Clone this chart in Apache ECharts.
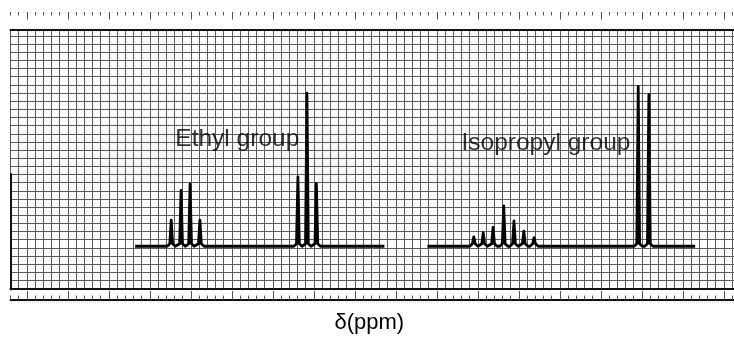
<!DOCTYPE html>
<html>
<head>
<meta charset="utf-8">
<script src="https://cdn.jsdelivr.net/npm/echarts@6/dist/echarts.min.js"></script>
<style>
  html, body { margin: 0; padding: 0; background: #fff; }
  #chart { width: 734px; height: 339px; }
</style>
</head>
<body>
<div id="chart"></div>
<script>
// Chemical shift positions and peak heights, in chart-paper divisions.
const baselineLevel = 5.2;

const ethylRange = [15.2, 45.6];
const ethylPeakShift  = [19.6, 20.8, 21.9, 23.1, 35.05, 36.15, 37.3];
const ethylPeakHeight = [3.2, 6.85, 7.65, 3.2, 8.5, 18.8, 7.7];

const isopropylRange = [50.85, 83.5];
const isopropylPeakShift  = [56.5, 57.65, 58.85, 60.15, 61.4, 62.6, 63.85, 76.55, 77.85];
const isopropylPeakHeight = [1.15, 1.65, 2.3, 4.95, 3.1, 1.85, 1.05, 19.6, 18.6];

const groupNames = ['Ethyl group', 'Isopropyl group'];
const groupLabelAt = [[20.1, 18.3], [55.0, 17.8]];

const axisTitle = 'δ(ppm)';

// Ruler tick values (every division, and a long tick every fifth one)
const rulerShortTicks = [];
for (let i = 0; i <= 88; i++) rulerShortTicks.push(i);
const rulerLongTicks = [];
for (let i = 2; i <= 88; i += 5) rulerLongTicks.push(i);

// Each resonance is drawn as a narrow spike with a small flared foot.
function spectrumLine(range, shifts, heights) {
  const pts = [[range[0], baselineLevel]];
  shifts.forEach((s, i) => {
    const h = heights[i];
    pts.push([s - 0.5, baselineLevel]);
    pts.push([s - 0.17, baselineLevel + 0.3]);
    pts.push([s, baselineLevel + h]);
    pts.push([s + 0.17, baselineLevel + 0.3]);
    pts.push([s + 0.5, baselineLevel]);
  });
  pts.push([range[1], baselineLevel]);
  return pts;
}

const gridLeft = 10.5, gridRight = 0, gridTop = 29.5, gridBottom = 49.4;
const W = 734, H = 339;
const xMax = (W - gridLeft - gridRight) / 8.2;
const yMax = (H - gridTop - gridBottom) / 8.18;

const chart = echarts.init(document.getElementById('chart'), null, { renderer: 'canvas' });

const gridLine = '#5c5c5c';
const font = 'Liberation Sans, Arial, sans-serif';
const xBase = { type: 'value', min: 0, max: xMax, gridIndex: 0, axisLabel: { show: false }, splitLine: { show: false } };

chart.setOption({
  animation: false,
  backgroundColor: '#ffffff',
  grid: [
    { left: gridLeft, right: gridRight, top: gridTop, bottom: gridBottom },
    { left: gridLeft, right: gridRight, top: 174, bottom: gridBottom }
  ],
  xAxis: [
    // paper grid + bottom border
    Object.assign({}, xBase, {
      position: 'bottom', interval: 1,
      axisLine: { show: true, lineStyle: { color: '#111', width: 2 } },
      axisTick: { show: false },
      splitLine: { show: true, lineStyle: { color: gridLine, width: 1 } }
    }),
    // top border
    Object.assign({}, xBase, {
      position: 'top',
      axisLine: { show: true, lineStyle: { color: '#111', width: 2 } },
      axisTick: { show: false }
    }),
    // top ruler, short ticks
    Object.assign({}, xBase, {
      position: 'top', offset: 17.5,
      axisLine: { show: false },
      axisTick: { show: true, inside: true, length: 3.5, customValues: rulerShortTicks, lineStyle: { color: '#555', width: 1 } }
    }),
    // top ruler, long ticks
    Object.assign({}, xBase, {
      position: 'top', offset: 17.5,
      axisLine: { show: false },
      axisTick: { show: true, inside: true, length: 7.5, customValues: rulerLongTicks, lineStyle: { color: '#555', width: 1 } }
    }),
    // bottom ruler, short ticks + ruler line + axis title
    Object.assign({}, xBase, {
      position: 'bottom', offset: 11.4,
      axisLine: { show: true, lineStyle: { color: '#111', width: 2 } },
      axisTick: { show: true, inside: true, length: 4.5, customValues: rulerShortTicks, lineStyle: { color: '#555', width: 1 } },
      name: axisTitle, nameLocation: 'middle', nameGap: 12,
      nameTextStyle: { fontFamily: font, fontSize: 22, color: '#000', padding: [0, 6, 0, 0] }
    }),
    // bottom ruler, long ticks
    Object.assign({}, xBase, {
      position: 'bottom', offset: 11.4,
      axisLine: { show: false },
      axisTick: { show: true, inside: true, length: 9, customValues: rulerLongTicks, lineStyle: { color: '#555', width: 1 } }
    }),
    // helper axis for the left edge grid
    { type: 'value', gridIndex: 1, min: 0, max: xMax, show: false }
  ],
  yAxis: [
    {
      type: 'value', gridIndex: 0, min: 0, max: yMax, interval: 1,
      axisLine: { show: false }, axisTick: { show: false }, axisLabel: { show: false },
      splitLine: { show: true, lineStyle: { color: gridLine, width: 1 } }
    },
    {
      type: 'value', gridIndex: 1, min: 0, max: 1, position: 'left',
      axisLine: { show: true, lineStyle: { color: '#111', width: 2 } },
      axisTick: { show: false }, axisLabel: { show: false }, splitLine: { show: false }
    }
  ],
  series: [
    {
      name: 'Ethyl', type: 'line', xAxisIndex: 0, yAxisIndex: 0,
      data: spectrumLine(ethylRange, ethylPeakShift, ethylPeakHeight),
      symbol: 'none', lineStyle: { color: '#000', width: 2.8, join: 'round' }, z: 5
    },
    {
      name: 'Isopropyl', type: 'line', xAxisIndex: 0, yAxisIndex: 0,
      data: spectrumLine(isopropylRange, isopropylPeakShift, isopropylPeakHeight),
      symbol: 'none', lineStyle: { color: '#000', width: 2.8, join: 'round' }, z: 5
    },
    {
      name: 'labels', type: 'scatter', xAxisIndex: 0, yAxisIndex: 0,
      symbolSize: 0, silent: true, z: 6,
      data: groupNames.map((n, i) => ({ name: n, value: groupLabelAt[i] })),
      label: {
        show: true, position: 'right', distance: 0, formatter: '{b}',
        fontFamily: font, fontSize: 24.5, color: '#000'
      }
    }
  ]
});
</script>
</body>
</html>
